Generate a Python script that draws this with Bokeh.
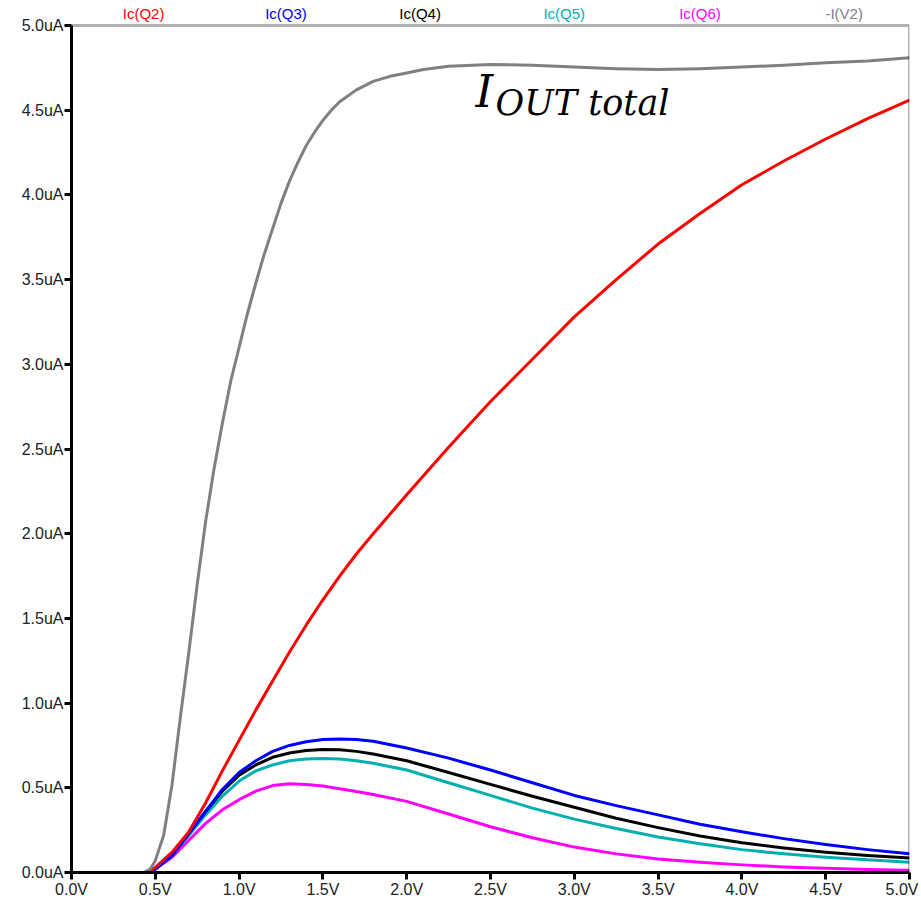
from bokeh.plotting import figure
from bokeh.models import Range1d, FixedTicker, PrintfTickFormatter, Label, BoxAnnotation
from bokeh.embed import file_html
from bokeh.resources import INLINE

# ---- data (volts / microamps) ----
v_total = [0, 0.4, 0.43, 0.47, 0.5, 0.55, 0.6, 0.65, 0.7, 0.75, 0.8, 0.85, 0.9, 0.95, 1.0,
           1.05, 1.1, 1.15, 1.2, 1.25, 1.3, 1.35, 1.4, 1.45, 1.5, 1.55, 1.6, 1.7, 1.8, 1.9,
           2.0, 2.1, 2.25, 2.5, 2.75, 3.0, 3.25, 3.5, 3.75, 4.0, 4.25, 4.5, 4.75, 5.0]
i_total = [0, 0, 0, 0.02, 0.07, 0.22, 0.52, 0.92, 1.3, 1.7, 2.07, 2.38, 2.65, 2.9, 3.1,
           3.3, 3.48, 3.65, 3.8, 3.95, 4.08, 4.19, 4.29, 4.37, 4.44, 4.5, 4.55, 4.62, 4.67, 4.7,
           4.72, 4.74, 4.76, 4.77, 4.765, 4.755, 4.745, 4.74, 4.745, 4.755, 4.765, 4.78, 4.79, 4.81]

v = [0, 0.4, 0.45, 0.5, 0.6, 0.7, 0.8, 0.9, 1.0, 1.1, 1.2, 1.3, 1.4, 1.5, 1.6, 1.7, 1.8,
     2.0, 2.25, 2.5, 2.75, 3.0, 3.25, 3.5, 3.75, 4.0, 4.25, 4.5, 4.75, 5.0]
ic_q2 = [0, 0, 0, 0.03, 0.12, 0.24, 0.41, 0.6, 0.78, 0.96, 1.13, 1.3, 1.46, 1.61, 1.75, 1.88, 2.0,
         2.23, 2.51, 2.78, 3.03, 3.28, 3.5, 3.71, 3.89, 4.06, 4.2, 4.33, 4.45, 4.56]
ic_q3 = [0, 0, 0, 0.02, 0.1, 0.23, 0.36, 0.49, 0.59, 0.66, 0.715, 0.75, 0.772, 0.785, 0.788, 0.785, 0.775,
         0.735, 0.675, 0.605, 0.53, 0.455, 0.395, 0.34, 0.285, 0.24, 0.2, 0.165, 0.135, 0.11]
ic_q4 = [0, 0, 0, 0.02, 0.1, 0.23, 0.36, 0.48, 0.575, 0.635, 0.68, 0.705, 0.72, 0.726, 0.725, 0.715, 0.7,
         0.66, 0.59, 0.52, 0.45, 0.385, 0.32, 0.265, 0.215, 0.175, 0.145, 0.12, 0.1, 0.085]
ic_q5 = [0, 0, 0, 0.02, 0.1, 0.22, 0.34, 0.45, 0.54, 0.6, 0.635, 0.66, 0.67, 0.673, 0.67, 0.66, 0.645,
         0.605, 0.53, 0.455, 0.38, 0.315, 0.26, 0.21, 0.17, 0.135, 0.11, 0.09, 0.075, 0.06]
ic_q6 = [0, 0, 0, 0.02, 0.09, 0.19, 0.29, 0.37, 0.43, 0.48, 0.513, 0.524, 0.52, 0.51, 0.495, 0.478, 0.46,
         0.42, 0.345, 0.27, 0.205, 0.15, 0.11, 0.08, 0.06, 0.045, 0.033, 0.025, 0.018, 0.013]

series_names = ["Ic(Q2)", "Ic(Q3)", "Ic(Q4)", "Ic(Q5)", "Ic(Q6)", "-I(V2)"]
series_colors = ["#ff0000", "#0000ff", "#000000", "#00b0b0", "#ff00ff", "#808080"]
x_ticks = [0, 0.5, 1.0, 1.5, 2.0, 2.5, 3.0, 3.5, 4.0, 4.5, 5.0]
y_ticks = [0, 0.5, 1.0, 1.5, 2.0, 2.5, 3.0, 3.5, 4.0, 4.5, 5.0]
V_MAX = 5.0
I_MAX = 5.0

# the frame extends above 5.0uA to leave room for the trace names
p = figure(width=918, height=900, output_backend="svg", toolbar_location=None,
           x_range=Range1d(0, V_MAX), y_range=Range1d(0, I_MAX * 872 / 847),
           min_border_left=71, min_border_right=9, min_border_top=0, min_border_bottom=28)
p.xgrid.visible = False
p.ygrid.visible = False
p.outline_line_color = None
p.background_fill_color = "white"
p.border_fill_color = "white"

for ax in (p.xaxis[0], p.yaxis[0]):
    ax.axis_line_width = 3
    ax.axis_line_color = "black"
    ax.major_tick_line_width = 3
    ax.major_tick_line_color = "black"
    ax.major_tick_out = 7
    ax.major_tick_in = 0
    ax.minor_tick_line_color = None
    ax.major_label_text_font = "Liberation Sans"
    ax.major_label_text_font_size = "16px"
    ax.major_label_text_color = "#222222"
    ax.major_label_standoff = 1

p.xaxis.ticker = FixedTicker(ticks=x_ticks)
p.yaxis.ticker = FixedTicker(ticks=y_ticks)
p.yaxis.bounds = (0, I_MAX)
p.xaxis.formatter = PrintfTickFormatter(format="%.1fV")
p.yaxis.formatter = PrintfTickFormatter(format="%.1fuA")

# plot box
p.add_layout(BoxAnnotation(left=0, right=V_MAX, bottom=0, top=I_MAX, fill_alpha=0,
                           line_color="black", line_width=3))

lw = 3
p.line(v, ic_q6, line_color=series_colors[4], line_width=lw, line_join="round")
p.line(v, ic_q5, line_color=series_colors[3], line_width=lw, line_join="round")
p.line(v, ic_q4, line_color=series_colors[2], line_width=lw, line_join="round")
p.line(v, ic_q3, line_color=series_colors[1], line_width=lw, line_join="round")
p.line(v, ic_q2, line_color=series_colors[0], line_width=lw, line_join="round")
p.line(v_total, i_total, line_color=series_colors[5], line_width=lw, line_join="round")

# trace names along the top
name_x = [0.43, 1.28, 2.08, 2.94, 3.75, 4.61]
for nm, col, nx in zip(series_names, series_colors, name_x):
    p.add_layout(Label(x=nx, y=I_MAX, text=nm, text_color=col, text_font="Liberation Sans",
                       text_font_size="15px", text_align="center", text_baseline="bottom",
                       y_offset=4))

# annotation I_OUT total
p.add_layout(Label(x=2.41, y=4.61, text="I", text_font="DejaVu Serif", text_font_style="italic",
                   text_font_size="45px", text_color="black", text_baseline="alphabetic"))
p.add_layout(Label(x=2.53, y=4.54, text="OUT total", text_font="DejaVu Serif", text_font_style="italic",
                   text_font_size="35px", text_color="black", text_baseline="alphabetic"))

open("out.html", "w").write(file_html(p, INLINE))
